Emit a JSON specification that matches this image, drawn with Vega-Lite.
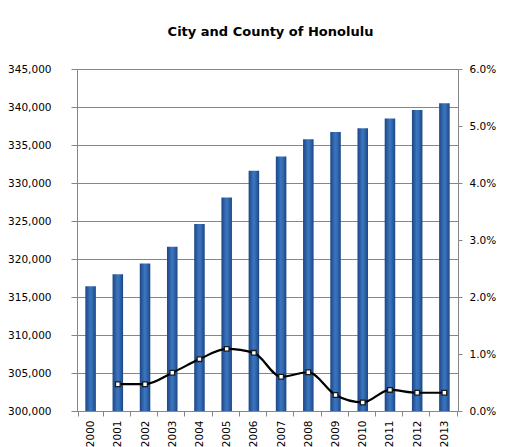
{
  "$schema": "https://vega.github.io/schema/vega-lite/v6.json",
  "autosize": "none",
  "width": 381,
  "height": 342,
  "padding": {"left": 77, "top": 69, "right": 49, "bottom": 36},
  "background": "white",
  "config": {"font": "DejaVu Sans", "view": {"stroke": null}},
  "title": {"text": "City and County of Honolulu", "fontSize": 13, "fontWeight": "bold", "color": "#000000", "anchor": "middle", "offset": 25, "dx": 3},
  "data": {"values": [
    {"year": "2000", "population": 316400, "change": null},
    {"year": "2001", "population": 318000, "change": 0.0047},
    {"year": "2002", "population": 319400, "change": 0.0047},
    {"year": "2003", "population": 321600, "change": 0.0067},
    {"year": "2004", "population": 324600, "change": 0.0091},
    {"year": "2005", "population": 328100, "change": 0.0109},
    {"year": "2006", "population": 331600, "change": 0.0102},
    {"year": "2007", "population": 333500, "change": 0.0060},
    {"year": "2008", "population": 335750, "change": 0.0068},
    {"year": "2009", "population": 336700, "change": 0.0028},
    {"year": "2010", "population": 337200, "change": 0.0015},
    {"year": "2011", "population": 338500, "change": 0.0037},
    {"year": "2012", "population": 339600, "change": 0.0032},
    {"year": "2013", "population": 340500, "change": 0.0032}
  ]},
  "encoding": {
    "x": {"field": "year", "type": "nominal", "sort": null,
      "axis": {"title": null, "labelAngle": -90, "labelAlign": "right", "labelBaseline": "middle", "tickBand": "extent", "domainColor": "#868686", "tickColor": "#868686", "tickSize": 5, "labelFontSize": 10.5, "labelColor": "#000000", "labelPadding": 4, "grid": false}}
  },
  "layer": [
    {
      "mark": {"type": "bar", "width": {"band": 0.43}, "clip": true,
        "color": {"gradient": "linear", "x1": 0, "x2": 1, "y1": 0, "y2": 0,
          "stops": [{"offset": 0, "color": "#1c4682"}, {"offset": 0.45, "color": "#3a73be"}, {"offset": 0.6, "color": "#3670ba"}, {"offset": 1, "color": "#1c4682"}]}},
      "encoding": {
        "y": {"field": "population", "type": "quantitative",
          "scale": {"domain": [300000, 345000], "zero": false, "nice": false},
          "axis": {"title": null, "orient": "left", "format": ",.0f", "values": [300000, 305000, 310000, 315000, 320000, 325000, 330000, 335000, 340000, 345000],
            "grid": true, "gridColor": "#868686", "gridWidth": 1, "domainColor": "#868686", "tickColor": "#868686", "tickSize": 6, "labelPadding": 20, "labelFontSize": 10.5, "labelColor": "#000000"}}
      }
    },
    {
      "mark": {"type": "line", "interpolate": "monotone", "color": "#000000", "strokeWidth": 2.2,
        "point": {"shape": "square", "size": 22, "filled": true, "fill": "#ffffff", "stroke": "#1a1a1a", "strokeWidth": 1.3}},
      "encoding": {
        "y": {"field": "change", "type": "quantitative",
          "scale": {"domain": [0, 0.06], "nice": false},
          "axis": {"title": null, "orient": "right", "format": ".1%", "values": [0, 0.01, 0.02, 0.03, 0.04, 0.05, 0.06],
            "grid": false, "domainColor": "#868686", "tickColor": "#868686", "tickSize": 4, "labelPadding": 7, "labelFontSize": 10.5, "labelColor": "#000000"}}
      }
    }
  ],
  "resolve": {"scale": {"y": "independent"}}
}
